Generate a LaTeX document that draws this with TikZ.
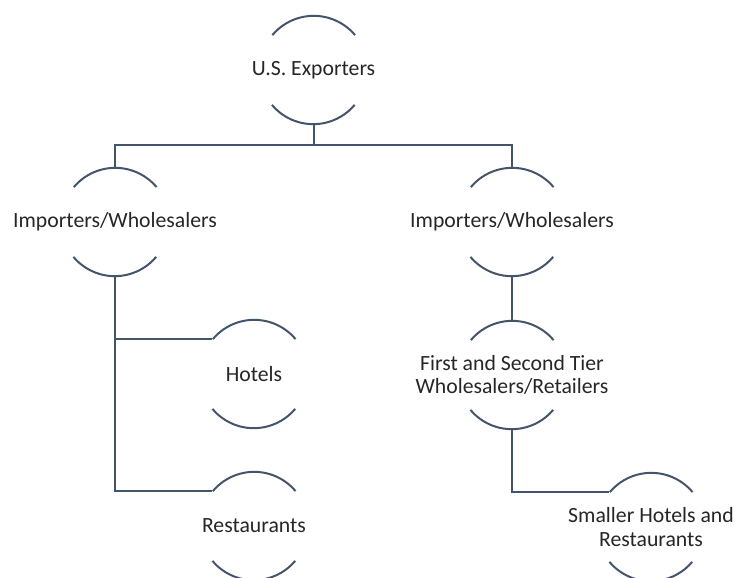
\documentclass[tikz,border=0pt]{standalone}
\usepackage{fontspec}
\setmainfont{Carlito}
\definecolor{linecol}{HTML}{44546A}
\definecolor{txtcol}{HTML}{262626}
\begin{document}
\begin{tikzpicture}[x=0.75pt,y=-0.75pt,
  ring/.style={circle,minimum size=81pt,inner sep=0pt,draw=none},
  txt/.style={text=txtcol,align=center,font=\fontsize{16.3pt}{17.5pt}\selectfont,inner sep=0pt},
  arcline/.style={draw=linecol,line width=1.5pt},
  conn/.style={draw=linecol,line width=1.5pt}]
\useasboundingbox (0,0) rectangle (735,578);
\def\R{40.5pt}
\foreach \n/\x/\y in {us/313.5/70, impL/115/222, impR/512/222, hot/254/374, rest/254/526, fst/512/375, sm/651/527}{
  \node[ring] (\n) at (\x,\y) {};
}
\foreach \n in {us,impL,impR,hot,rest,fst,sm}{
  \draw[arcline] (\n.40) arc[start angle=40,end angle=140,radius=\R];
  \draw[arcline] (\n.220) arc[start angle=220,end angle=320,radius=\R];
}
\node[txt] (usT) at (us) {U.S. Exporters};
\node[txt] (impLT) at (impL) {Importers/Wholesalers};
\node[txt] (impRT) at (impR) {Importers/Wholesalers};
\node[txt] (hotT) at (hot) {Hotels};
\node[txt] (restT) at (rest) {Restaurants};
\node[txt] (fstT) at (fst) {First and Second Tier\\Wholesalers/Retailers};
\node[txt] (smT) at (sm) {Smaller Hotels and\\Restaurants};
\coordinate (bus) at (313.5,145);
\draw[conn] (us.south) -- (bus);
\draw[conn] (impL.north) |- (bus) -| (impR.north);
\draw[conn] (impL.south) |- (rest.140);
\draw[conn] (impL.south |- hot.140) -- (hot.140);
\draw[conn] (impR.south) -- (fst.north);
\draw[conn] (fst.south) |- (sm.140);
\end{tikzpicture}
\end{document}
